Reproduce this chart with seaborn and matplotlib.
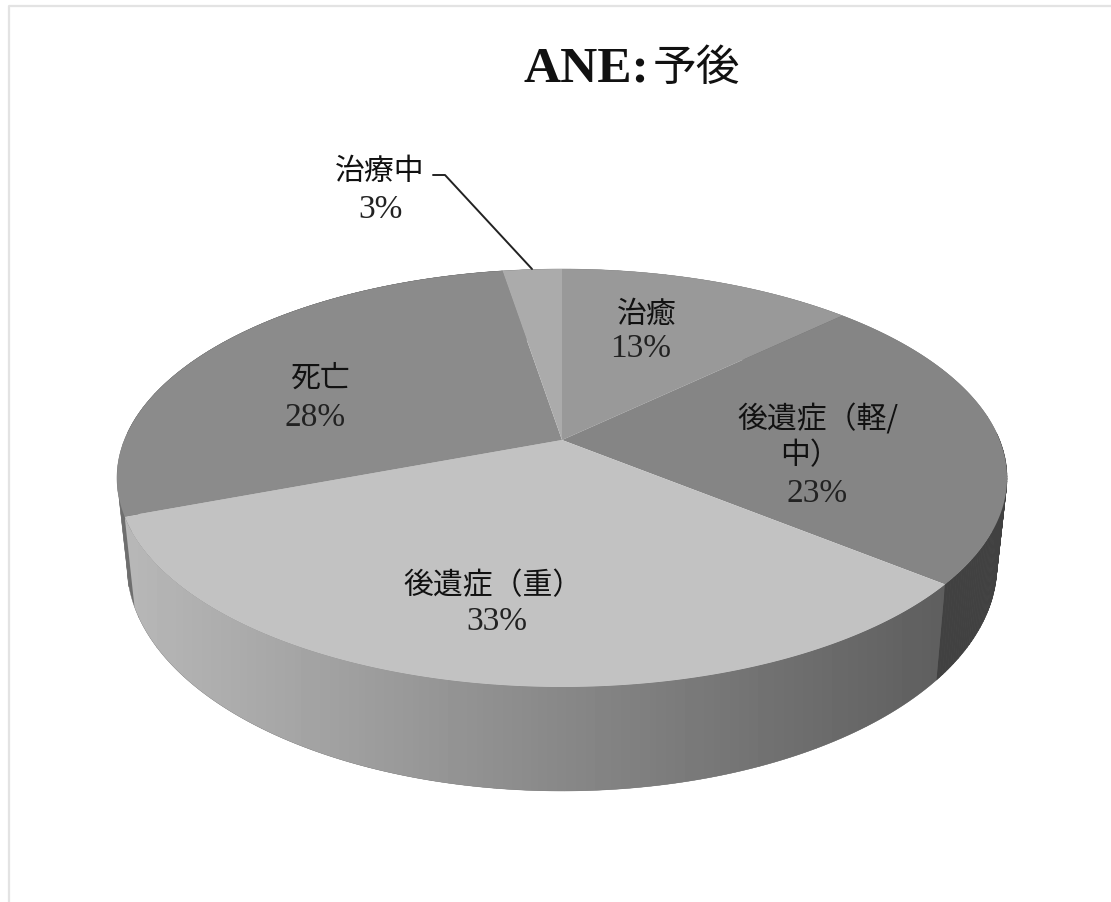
import numpy as np
import matplotlib
matplotlib.use("Agg")
import matplotlib.pyplot as plt
from matplotlib.patches import Polygon
import seaborn as sns

# データ (症例数, n=39)
categories = ["治癒", "後遺症(軽/中)", "後遺症(重)", "死亡", "治療中"]
values = [5, 9, 13, 11, 1]
title_latin = "ANE:"
title_cjk = "予後"

sns.set_theme(style="white")
SERIF = ["Liberation Serif", "Noto Sans CJK JP"]
GOTHIC = ["Noto Sans CJK JP", "DejaVu Sans"]
plt.rcParams["font.family"] = GOTHIC

top_colors = ["#999999", "#858585", "#c2c2c2", "#8b8b8b", "#ababab"]

fig = plt.figure(figsize=(11.11, 9.03), dpi=100)
ax = fig.add_axes([0, 0, 1, 1])

# 角度だけ pie に計算させる
wedges, _ = ax.pie(values, startangle=90, counterclock=False, colors=top_colors)
for w in wedges:
    w.set_visible(False)

ax.set_aspect("auto")
ax.set_xlim(0, 1111)
ax.set_ylim(903, 0)
ax.axis("off")


# 透視投影 (単位円 -> 画面ピクセル)
def project(u, v):
    c = 0.1818
    w = 1 + c * v
    return 562 + 437.6 * u / w, (441 - 121.9 * v) / w


def rim(theta1, theta2, n=120):
    t = np.radians(np.linspace(theta1, theta2, n))
    return project(np.cos(t), np.sin(t))


# 上面の楕円 -> 底面の楕円
def lower(x, y):
    return 562 + (x - 562) * 435 / 445, 566 + (y - 479) * 226 / 209


def wall_polygon(theta1, theta2):
    x, y = rim(theta1, theta2)
    lx, ly = lower(x, y)
    return np.column_stack([np.r_[x, lx[::-1]], np.r_[y, ly[::-1]]])


def wall_strip(theta1, theta2, color):
    # 細い四角形を並べて外形の接線まで埋める
    edges = np.linspace(theta1, theta2, 60)
    for a, b in zip(edges[:-1], edges[1:]):
        ax.add_patch(Polygon(wall_polygon(a, b), closed=True, fc=color, ec=color, lw=0.3, zorder=1))


# 側面
th = {i: (w.theta1, w.theta2) for i, w in enumerate(wedges)}

# 死亡の側面 (左端のわずかな部分)
wall_strip(th[3][0], 178, "#6e6e6e")

# 後遺症(軽/中)の側面 (手前側だけ)
wall_strip(th[1][0], 2, "#414141")

# 後遺症(重)の側面 (グラデーション)
t1, t2 = th[2]
poly = Polygon(wall_polygon(t1, t2), closed=True, fc="none", ec="none", zorder=2)
ax.add_patch(poly)
grad = np.linspace(0.72, 0.37, 256)[None, :]
im = ax.imshow(grad, extent=[125, 944, 820, 500], cmap="gray", vmin=0, vmax=1,
               aspect="auto", zorder=2)
im.set_clip_path(poly)
ax.set_xlim(0, 1111)
ax.set_ylim(903, 0)

# 上面
cx, cy = project(0, 0)
for w, col in zip(wedges, top_colors):
    x, y = rim(w.theta1, w.theta2)
    pts = np.column_stack([np.r_[cx, x], np.r_[cy, y]])
    ax.add_patch(Polygon(pts, closed=True, fc=col, ec="none", zorder=3))

# 引き出し線
ax.plot([433, 445, 532], [176, 176, 270], color="#222222", lw=1.4, zorder=4)

# ラベル
name_lines = [["治癒"], ["後遺症\uff08軽/", "中\uff09"], ["後遺症\uff08重\uff09"], ["死亡"], ["治療中"]]
name_pos = [[(647, 314)], [(818, 420), (810, 456)], [(493, 586)], [(320, 378)], [(380, 171)]]
pct_pos = [(641, 349), (817, 494), (497, 622), (315, 418), (381, 210)]

total = sum(values)
for lines, positions, val, pp in zip(name_lines, name_pos, values, pct_pos):
    for line, (tx, ty) in zip(lines, positions):
        ax.text(tx, ty, line, ha="center", va="center", fontsize=21.5,
                family=GOTHIC, color="#111111", zorder=5)
    ax.text(pp[0], pp[1], f"{round(val / total * 100)}%", ha="center", va="center", fontsize=24,
            family=SERIF, color="#222222", zorder=5)

# タイトル
ax.text(649, 69, title_latin, ha="right", va="center", fontsize=37, fontweight="bold",
        family=SERIF, color="#111111", zorder=5)
ax.text(653, 68, title_cjk, ha="left", va="center", fontsize=31.5,
        family=GOTHIC, color="#111111", zorder=5)

# 外枠
ax.plot([9, 9, 1111], [903, 7, 7], color="#e3e3e3", lw=1.6, zorder=0)

fig.savefig("out.png", dpi=100, facecolor="white")
